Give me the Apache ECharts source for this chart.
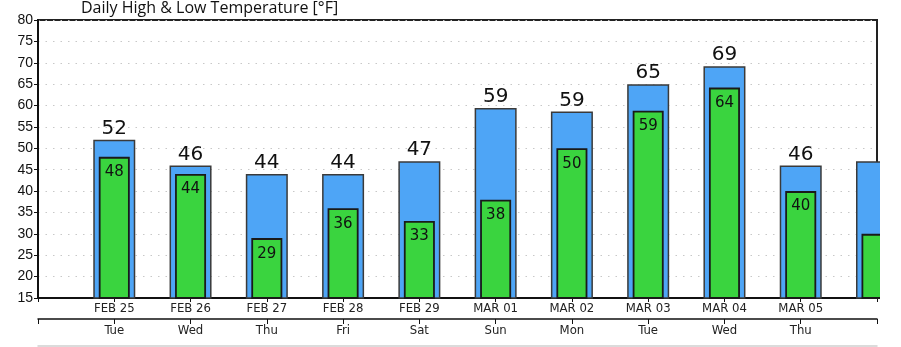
<!DOCTYPE html>
<html><head><meta charset="utf-8">
<script src="https://cdn.jsdelivr.net/npm/echarts@6/dist/echarts.min.js"></script>
<style>html,body{margin:0;padding:0;background:#fff;width:901px;height:347px;overflow:hidden}#c{width:880px;height:347px}</style>
</head><body><div id="c"></div>
<script>
const dates = ['', 'FEB 25', 'FEB 26', 'FEB 27', 'FEB 28', 'FEB 29', 'MAR 01', 'MAR 02', 'MAR 03', 'MAR 04', 'MAR 05', 'MAR 06'];
const days = ['', 'Tue', 'Wed', 'Thu', 'Fri', 'Sat', 'Sun', 'Mon', 'Tue', 'Wed', 'Thu', 'Fri'];
const highs = ['-', 52, 46, 44, 44, 47, 59.4, 58.6, 65, 69.2, 46, 47];
const lows = ['-', 48, 44, 29, 36, 33, 38, 50, 58.8, 64.2, 40, 30];
const yTicks = [15, 80, 5];
const lastIdx = dates.length - 1;

const chart = echarts.init(document.getElementById('c'), null, {renderer: 'canvas'});
const lblFmt = p => (p.dataIndex === lastIdx ? '' : String(Math.round(p.value)));
chart.setOption({
  animation: false,
  title: {
    text: 'Daily High & Low Temperature [°F]',
    left: 81, top: 0, padding: 0,
    textStyle: {fontFamily: 'Open Sans', fontSize: 16, fontWeight: 'normal', color: '#111'}
  },
  grid: {left: 38, right: 1, top: 20, bottom: 49, show: true, borderColor: '#222', borderWidth: 2, backgroundColor: 'transparent'},
  xAxis: [
    {
      type: 'category', data: dates, boundaryGap: false, position: 'bottom',
      axisLine: {lineStyle: {color: '#111', width: 2}},
      axisTick: {show: true, interval: 0, length: 4, lineStyle: {color: '#111', width: 1}},
      axisLabel: {interval: 0, margin: 4, color: '#222', fontFamily: 'DejaVu Sans Condensed', fontSize: 13,
        formatter: (v, i) => (i === lastIdx ? '' : v)},
      splitLine: {show: false}
    },
    {
      type: 'category', data: days, boundaryGap: false, position: 'bottom', offset: 21,
      axisLine: {lineStyle: {color: '#111', width: 1.5}},
      axisTick: {show: true, interval: 0, length: 5, lineStyle: {color: '#111', width: 1}},
      axisLabel: {interval: 0, margin: 5, color: '#222', fontFamily: 'DejaVu Sans Condensed', fontSize: 13,
        formatter: (v, i) => (i === lastIdx ? '' : v)},
      splitLine: {show: false}
    },
    {
      type: 'category', data: dates, boundaryGap: false, position: 'bottom', offset: 48,
      axisLine: {lineStyle: {color: '#d0d0d0', width: 1.5}},
      axisTick: {show: false}, axisLabel: {show: false}, splitLine: {show: false}
    }
  ],
  yAxis: {
    type: 'value', min: yTicks[0], max: yTicks[1], interval: yTicks[2],
    axisLine: {show: true, lineStyle: {color: '#111', width: 2}},
    axisTick: {show: true, length: 4, lineStyle: {color: '#111'}},
    axisLabel: {color: '#111', fontFamily: 'Liberation Sans', fontSize: 14, margin: 5},
    splitLine: {show: true, lineStyle: {color: '#c8c8c8', width: 1, type: [1.5, 6]}}
  },
  series: [
    {
      name: 'High', type: 'bar', xAxisIndex: 0, data: highs, barWidth: 42, clip: true,
      itemStyle: {color: '#4ea5f6', borderColor: '#3a3a3a', borderWidth: 1.5},
      label: {show: true, position: 'top', distance: 1, color: '#111', fontFamily: 'DejaVu Sans', fontSize: 20, formatter: lblFmt}
    },
    {
      name: 'Low', type: 'bar', xAxisIndex: 1, data: lows, barWidth: 31, clip: true,
      itemStyle: {color: '#3ad43f', borderColor: '#1a1a1a', borderWidth: 1.8},
      label: {show: true, position: 'insideTop', distance: 8, color: '#111', fontFamily: 'DejaVu Sans', fontSize: 15, formatter: lblFmt}
    }
  ]
});
</script></body></html>
